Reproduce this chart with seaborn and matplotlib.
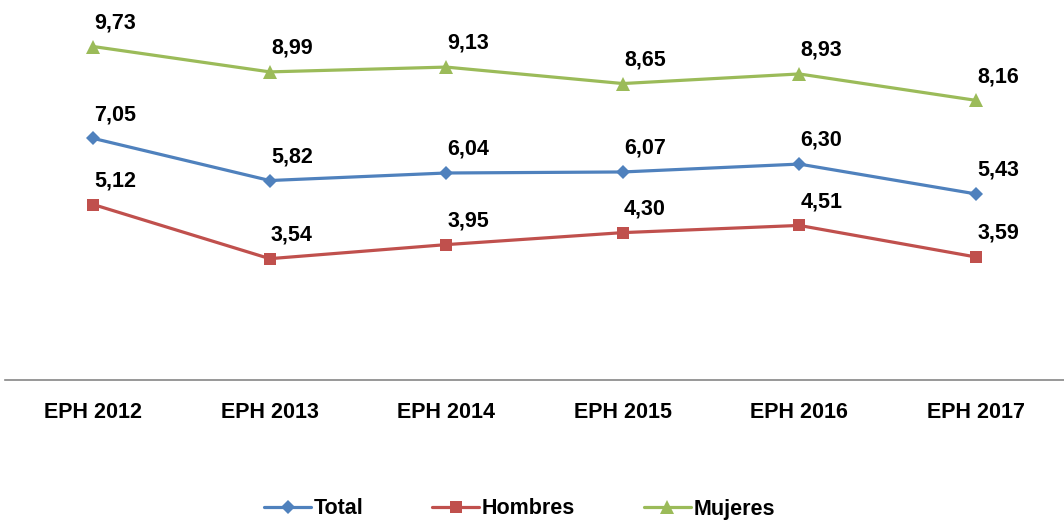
import pandas as pd
import seaborn as sns
import matplotlib.pyplot as plt

years = ['EPH 2012', 'EPH 2013', 'EPH 2014', 'EPH 2015', 'EPH 2016', 'EPH 2017']
total = [7.05, 5.82, 6.04, 6.07, 6.30, 5.43]
hombres = [5.12, 3.54, 3.95, 4.30, 4.51, 3.59]
mujeres = [9.73, 8.99, 9.13, 8.65, 8.93, 8.16]

series = {'Total': total, 'Hombres': hombres, 'Mujeres': mujeres}
colors = {'Total': '#4F81BD', 'Hombres': '#C0504D', 'Mujeres': '#9BBB59'}
markers = {'Total': 'D', 'Hombres': 's', 'Mujeres': '^'}
msize = {'Total': 7.5, 'Hombres': 9, 'Mujeres': 9.5}

sns.set_style('white')
plt.rcParams['font.family'] = ['Liberation Sans', 'DejaVu Sans']
plt.rcParams['text.color'] = 'black'
plt.rcParams['xtick.color'] = 'black'

fig = plt.figure(figsize=(10.64, 5.2), dpi=100)
ax = fig.add_axes([5 / 1064, 140 / 520, 1 - 5 / 1064, 377 / 520])

for name, vals in series.items():
    df = pd.DataFrame({'x': range(len(years)), 'y': vals})
    sns.lineplot(data=df, x='x', y='y', ax=ax, color=colors[name], linewidth=2.3,
                 marker=markers[name], markersize=msize[name], markeredgewidth=0,
                 label=name)
    for i, v in enumerate(vals):
        ax.annotate(f'{v:.2f}'.replace('.', ','), (i, v), xytext=(16, 17),
                    textcoords='offset points', ha='center', va='center',
                    fontsize=15.5, fontweight='bold', color='black')

ax.set_xlim(-0.5, 5.5)
ax.set_ylim(0, 11)
ax.set_xticks(range(len(years)))
ax.set_xticklabels(years, fontsize=15.5, fontweight='bold', color='black')
ax.tick_params(axis='x', length=0, pad=16)
ax.set_yticks([])
ax.set_xlabel('')
ax.set_ylabel('')
for s in ['top', 'right', 'left']:
    ax.spines[s].set_visible(False)
ax.spines['bottom'].set_color('#868686')
ax.spines['bottom'].set_linewidth(1.2)

handles, labels = ax.get_legend_handles_labels()
ax.get_legend().remove()
leg = fig.legend(handles, labels, loc='center', bbox_to_anchor=(0.488, 11 / 520), ncol=3,
                 frameon=False, handlelength=2.2, handletextpad=0.1, columnspacing=3.2,
                 prop={'size': 15.5, 'weight': 'bold'})
for t in leg.get_texts():
    t.set_color('black')

fig.savefig('out.png', dpi=100)
